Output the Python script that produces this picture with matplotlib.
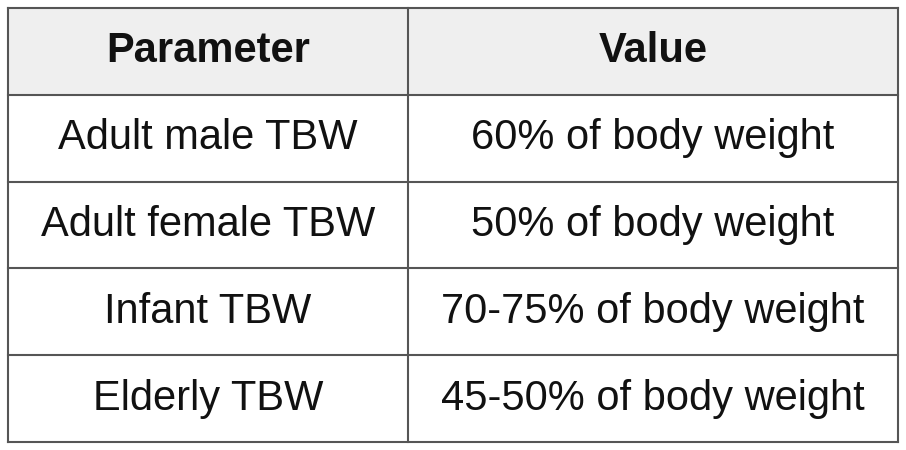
import matplotlib
matplotlib.use("Agg")
import matplotlib.pyplot as plt
from matplotlib.patches import Rectangle

headers = ["Parameter", "Value"]
parameters = ["Adult male TBW", "Adult female TBW", "Infant TBW", "Elderly TBW"]
values = ["60% of body weight", "50% of body weight", "70-75% of body weight", "45-50% of body weight"]

W, H = 906, 450
fig = plt.figure(figsize=(W/100, H/100), dpi=100)
ax = fig.add_axes([0, 0, 1, 1])
ax.set_xlim(0, W); ax.set_ylim(H, 0); ax.axis("off")

x0, x1, xm = 8, 898, 408
y0, y1 = 8, 442
nrows = len(parameters) + 1
rh = (y1 - y0) / nrows
edge = "#555555"
fs = 30
font = "Liberation Sans"

ax.add_patch(Rectangle((x0, y0), x1 - x0, rh, facecolor="#efefef", edgecolor="none"))
for i in range(nrows + 1):
    ax.plot([x0, x1], [y0 + i*rh]*2, color=edge, lw=1.5)
for x in (x0, xm, x1):
    ax.plot([x, x], [y0, y1], color=edge, lw=1.5)

cx = [(x0 + xm)/2, (xm + x1)/2]
for j, h in enumerate(headers):
    ax.text(cx[j], y0 + rh/2, h, ha="center", va="center", fontsize=fs,
            fontweight="bold", family=font, color="#111111")
for i, (p, v) in enumerate(zip(parameters, values)):
    yc = y0 + (i + 1.5)*rh
    ax.text(cx[0], yc, p, ha="center", va="center", fontsize=fs, family=font, color="#111111")
    ax.text(cx[1], yc, v, ha="center", va="center", fontsize=fs, family=font, color="#111111")

fig.savefig("out.png", dpi=100, facecolor="white")
